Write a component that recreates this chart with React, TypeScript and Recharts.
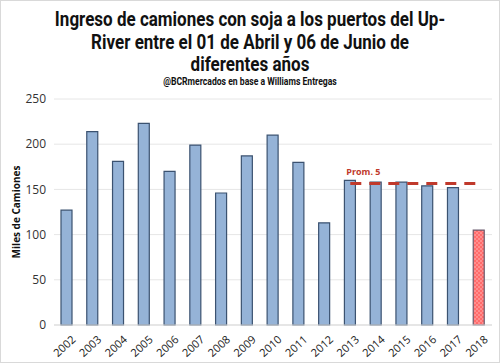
import React from 'react';
import { ComposedChart, Bar, Line, XAxis, YAxis, CartesianGrid, Cell, LabelList } from 'recharts';

const years = ['2002', '2003', '2004', '2005', '2006', '2007', '2008', '2009', '2010', '2011', '2012', '2013', '2014', '2015', '2016', '2017', '2018'];
const trucks = [127, 214, 181, 223, 170, 199, 146, 187, 210, 180, 113, 160, 158, 158, 154, 152, 105];
// promedio de los 5 años previos (2013-2017), dibujado de 2013 a 2018
const avgYears = ['2013', '2014', '2015', '2016', '2017', '2018'];
const avgValue = 156.5;
const yTicks = [0, 50, 100, 150, 200, 250];

const data = years.map((y, i) => ({
  year: y,
  trucks: trucks[i],
  avg: avgYears.includes(y) ? avgValue : null,
}));

const titleFont = 'Roboto, "Liberation Sans", sans-serif';
const bodyFont = '"Open Sans", "Noto Sans", sans-serif';
const firstAvgIndex = years.indexOf(avgYears[0]);

const PromLabel = (props: any) => {
  const { x, y, index } = props;
  if (index !== firstAvgIndex) return null;
  return (
    <text x={x - 4} y={y - 9} fill="#c0392b" fontSize={9} fontWeight="bold" fontFamily={bodyFont}>
      Prom. 5
    </text>
  );
};

const XTick = (props: any) => {
  const { x, y, payload } = props;
  return (
    <g transform={`translate(${x},${y})`}>
      <text x={0} y={0} dy={12} dx={2} textAnchor="end" fill="#222" fontSize={11} fontFamily={bodyFont} transform="rotate(-42)">
        {payload.value}
      </text>
    </g>
  );
};

export default function App() {
  return (
    <div style={{ position: 'absolute', left: 0, top: 0, width: 500, height: 363, background: '#fff', fontFamily: bodyFont }}>
      <div style={{ position: 'absolute', left: 0, top: 0, width: 498, height: 361, border: '1px solid #d9d9d9' }} />
      <div style={{ position: 'absolute', left: 0, top: 8, width: 500, textAlign: 'center', fontFamily: titleFont, fontWeight: 700, fontSize: 21, lineHeight: '22.5px', color: '#111', transform: 'scaleX(0.81)', transformOrigin: '250px 0' }}>
        Ingreso de camiones con soja a los puertos del Up-<br />
        River entre el 01 de Abril y 06 de Junio de<br />
        diferentes años
      </div>
      <div style={{ position: 'absolute', left: 0, top: 76, width: 500, textAlign: 'center', fontFamily: titleFont, fontWeight: 700, fontSize: 10.5, lineHeight: '12px', color: '#111', transform: 'scaleX(0.82)', transformOrigin: '250px 0' }}>
        @BCRmercados en base a Williams Entregas
      </div>
      <div style={{ position: 'absolute', left: 16, top: 212, transform: 'translate(-50%, -50%) rotate(-90deg)', whiteSpace: 'nowrap', fontFamily: bodyFont, fontWeight: 'bold', fontSize: 10, color: '#111' }}>
        Miles de Camiones
      </div>
      <ComposedChart
        width={500}
        height={363}
        data={data}
        margin={{ top: 99, right: 8, bottom: 8, left: 0 }}
        style={{ position: 'absolute', left: 0, top: 0 }}
      >
        <defs>
          <pattern id="checker" width="4" height="4" patternUnits="userSpaceOnUse">
            <rect width="4" height="4" fill="#ff6b6b" />
            <rect width="2" height="2" fill="#ff8e8e" />
            <rect x="2" y="2" width="2" height="2" fill="#ff8e8e" />
          </pattern>
        </defs>
        <CartesianGrid vertical={false} stroke="#e6e6e6" />
        <XAxis dataKey="year" height={30} axisLine={{ stroke: '#d9d9d9' }} tickLine={false} interval={0} tick={<XTick />} />
        <YAxis
          width={54}
          domain={[0, 250]}
          ticks={yTicks}
          axisLine={false}
          tickLine={false}
          tick={{ fill: '#333', fontSize: 12, fontFamily: bodyFont }}
          tickMargin={2}
        />
        <Bar dataKey="trucks" barSize={11} fill="#95b3d7" stroke="#3b5270" strokeWidth={1.2} isAnimationActive={false}>
          {data.map((d) => (
            <Cell key={d.year} fill={d.year === '2018' ? 'url(#checker)' : '#95b3d7'} stroke={d.year === '2018' ? '#6b5b6e' : '#3b5270'} />
          ))}
        </Bar>
        <Line
          dataKey="avg"
          stroke="#c0392b"
          strokeWidth={3}
          strokeDasharray="11 8"
          dot={false}
          activeDot={false}
          connectNulls={false}
          isAnimationActive={false}
        >
          <LabelList dataKey="avg" content={<PromLabel />} />
        </Line>
      </ComposedChart>
    </div>
  );
}
